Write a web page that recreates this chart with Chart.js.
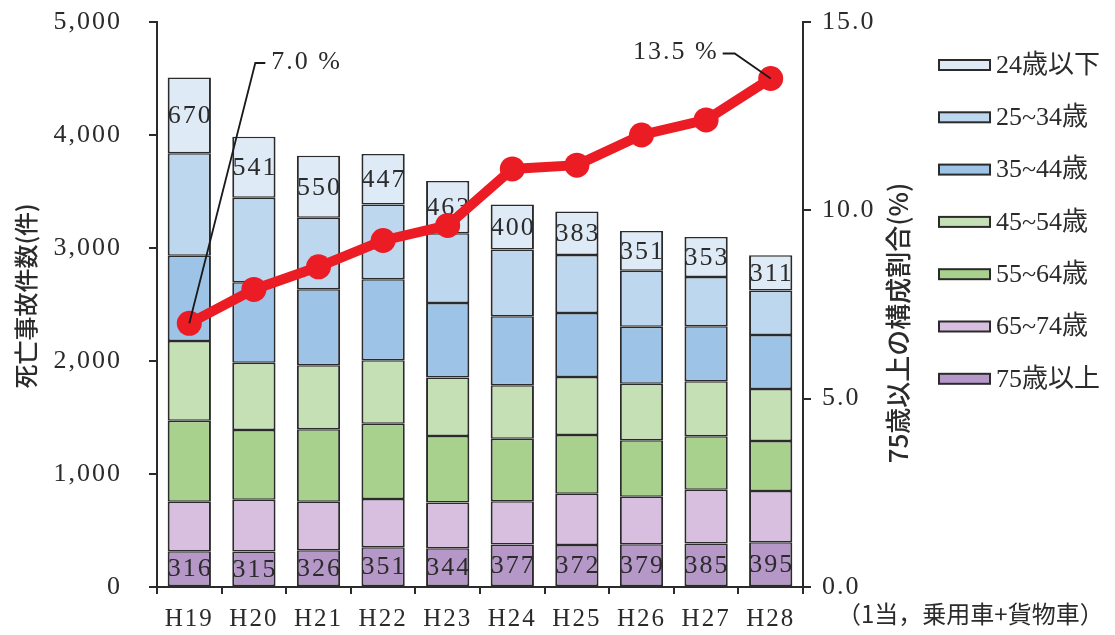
<!DOCTYPE html>
<html lang="ja">
<head>
<meta charset="utf-8">
<title>死亡事故件数と75歳以上の構成割合</title>
<script src="https://cdn.jsdelivr.net/npm/chart.js@4.4.1/dist/chart.umd.min.js"></script>
<style>
  html, body { margin: 0; padding: 0; background: #fff; }
  #chart { display: block; }
</style>
</head>
<body>
<canvas id="chart" width="1115" height="635"></canvas>
<script>
// Fatal accidents by age group of the first party (cars + trucks)
const years = ['H19', 'H20', 'H21', 'H22', 'H23', 'H24', 'H25', 'H26', 'H27', 'H28'];

const age75plus  = [316, 315, 326, 351, 344, 377, 372, 379, 385, 395];
const age65to74  = [438, 458, 428, 428, 404, 381, 454, 420, 476, 455];
const age55to64  = [718, 616, 641, 665, 589, 555, 519, 499, 472, 442];
const age45to54  = [705, 596, 568, 562, 516, 472, 513, 501, 487, 460];
const age35to44  = [754, 711, 672, 718, 660, 610, 567, 505, 487, 478];
const age25to34  = [907, 748, 632, 661, 618, 591, 514, 495, 437, 394];
const age24under = [670, 541, 550, 447, 463, 400, 383, 351, 353, 311];

// share of 75+ in all fatal accidents (%)
const share75 = [7.0, 7.9, 8.5, 9.2, 9.6, 11.1, 11.2, 12.0, 12.4, 13.5];

const groupLabels = ['75歳以上', '65~74歳', '55~64歳', '45~54歳', '35~44歳', '25~34歳', '24歳以下'];
const groupColors = ['#b597c8', '#d8bfdf', '#a9d18e', '#c5e0b4', '#9dc3e6', '#bdd7ee', '#deebf7'];
const groupData = [age75plus, age65to74, age55to64, age45to54, age35to44, age25to34, age24under];

const ink = '#2b2b2b';
const numFont = '26px "Liberation Serif", serif';
const jpFont = '26px "Liberation Serif", "Noto Sans CJK JP", serif';

const datasets = [{
  type: 'line',
  label: '75歳以上の構成割合',
  data: share75,
  yAxisID: 'y1',
  borderColor: '#ec1c24',
  backgroundColor: '#ec1c24',
  borderWidth: 10,
  pointRadius: 12.5,
  pointBorderWidth: 0,
  pointBackgroundColor: '#ec1c24',
  order: 0
}];
groupLabels.forEach((label, i) => {
  datasets.push({
    type: 'bar',
    label: label,
    data: groupData[i],
    yAxisID: 'y',
    backgroundColor: groupColors[i],
    borderColor: ink,
    // thinner top/bottom edges so neighbouring segments share one line
    borderWidth: { left: 2, right: 2, top: 1.5, bottom: 1.5 },
    borderSkipped: false,
    categoryPercentage: 1.0,
    barPercentage: 0.67,
    order: 1
  });
});

// Mincho-style digits are wide, so space the numbers out a bit
const spacing = {
  id: 'spacing',
  beforeUpdate(chart) { chart.ctx.letterSpacing = '2px'; },
  beforeDraw(chart) { chart.ctx.letterSpacing = '2px'; }
};

function drawBarLabels(chart) {
  const ctx = chart.ctx;
  ctx.save();
  ctx.font = numFont;
  ctx.letterSpacing = '2px';
  ctx.fillStyle = ink;
  ctx.textAlign = 'center';
  ctx.textBaseline = 'middle';
  // bottom (75+) and top (24 and under) segments carry their counts
  for (const idx of [1, datasets.length - 1]) {
    const meta = chart.getDatasetMeta(idx);
    meta.data.forEach((bar, i) => {
      const p = bar.getProps(['x', 'y', 'base'], true);
      ctx.fillText(String(chart.data.datasets[idx].data[i]), p.x + 1, (p.y + p.base) / 2 + 1);
    });
  }
  ctx.restore();
}

function drawCallouts(chart) {
  const ctx = chart.ctx;
  const pts = chart.getDatasetMeta(0).data;
  const first = pts[0];
  const last = pts[pts.length - 1];
  const top = chart.chartArea.top;
  ctx.save();
  ctx.strokeStyle = '#1a1a1a';
  ctx.lineWidth = 1.8;
  ctx.font = numFont;
  ctx.letterSpacing = '2px';
  ctx.fillStyle = ink;
  ctx.textBaseline = 'middle';

  // first year
  ctx.beginPath();
  ctx.moveTo(first.x, first.y);
  ctx.lineTo(first.x + 66, top + 41);
  ctx.lineTo(first.x + 76, top + 41);
  ctx.stroke();
  ctx.textAlign = 'left';
  ctx.fillText(share75[0].toFixed(1) + ' %', first.x + 82, top + 40);

  // last year
  ctx.beginPath();
  ctx.moveTo(last.x, last.y);
  ctx.lineTo(last.x - 36, last.y - 25);
  ctx.lineTo(last.x - 48, last.y - 25);
  ctx.stroke();
  ctx.textAlign = 'right';
  ctx.fillText(share75[share75.length - 1].toFixed(1) + ' %', last.x - 52, last.y - 26);
  ctx.restore();
}

function drawFrameText(chart) {
  const ctx = chart.ctx;
  const area = chart.chartArea;
  ctx.save();
  ctx.letterSpacing = '0px';
  ctx.fillStyle = ink;

  // axis titles, both read bottom to top
  ctx.textAlign = 'center';
  ctx.textBaseline = 'middle';
  ctx.save();
  ctx.font = '500 24px "Noto Sans CJK JP", sans-serif';
  ctx.translate(26, 296);
  ctx.rotate(-Math.PI / 2);
  ctx.fillText('死亡事故件数(件)', 0, 0);
  ctx.restore();
  ctx.save();
  ctx.font = '500 26px "Noto Sans CJK JP", sans-serif';
  ctx.translate(area.right + 95, 323);
  ctx.rotate(-Math.PI / 2);
  ctx.fillText('75歳以上の構成割合(%)', 0, 0);
  ctx.restore();

  // legend, youngest group on top
  const boxX = area.right + 136;
  for (let k = 0; k < groupLabels.length; k++) {
    const i = groupLabels.length - 1 - k;
    const cy = 65 + k * 52.3;
    ctx.fillStyle = groupColors[i];
    ctx.fillRect(boxX, cy - 5, 51, 10);
    ctx.strokeStyle = ink;
    ctx.lineWidth = 2;
    ctx.strokeRect(boxX, cy - 5, 51, 10);
    ctx.fillStyle = ink;
    ctx.font = jpFont;
    ctx.textAlign = 'left';
    ctx.fillText(groupLabels[i], boxX + 57, cy + 1);
  }

  // note under the right axis
  ctx.font = '24px "Noto Sans CJK JP", sans-serif';
  ctx.textAlign = 'left';
  ctx.fillText('（1当，乗用車+貨物車）', area.right + 34, 614);
  ctx.restore();
}

const extras = {
  id: 'extras',
  beforeDatasetDraw(chart, args) {
    if (args.index === 0) drawBarLabels(chart);
  },
  afterDatasetsDraw(chart) {
    drawCallouts(chart);
  },
  afterDraw(chart) {
    drawFrameText(chart);
  }
};

const axisGrid = {
  display: true,
  drawOnChartArea: false,
  drawTicks: true,
  tickLength: 8,
  color: ink,
  lineWidth: 2
};

// vertical axes: fixed width, and no extra room reserved above/below the plot
function fixVertical(width) {
  return (scale) => {
    scale.width = width;
    scale.paddingTop = 0;
    scale.paddingBottom = 0;
  };
}

new Chart(document.getElementById('chart'), {
  data: { labels: years, datasets: datasets },
  options: {
    responsive: false,
    animation: false,
    layout: { padding: { top: 22, left: 0, right: 0, bottom: 0 } },
    plugins: {
      legend: { display: false },
      tooltip: { enabled: false }
    },
    scales: {
      x: {
        stacked: true,
        grid: Object.assign({}, axisGrid, { offset: true, tickLength: 7 }),
        border: { display: true, color: ink, width: 2 },
        ticks: { color: ink, font: { family: '"Liberation Serif", serif', size: 25 }, padding: 10 },
        afterFit(scale) {
          scale.height = 48;
          scale.paddingLeft = 0;
          scale.paddingRight = 0;
        }
      },
      y: {
        stacked: true,
        position: 'left',
        min: 0,
        max: 5000,
        grid: axisGrid,
        border: { display: true, color: ink, width: 2 },
        ticks: {
          stepSize: 1000,
          color: ink,
          padding: 27,
          font: { family: '"Liberation Serif", serif', size: 26 },
          callback: (v) => v.toLocaleString('en-US')
        },
        afterFit: fixVertical(157)
      },
      y1: {
        position: 'right',
        min: 0,
        max: 15,
        grid: axisGrid,
        border: { display: true, color: ink, width: 2 },
        ticks: {
          stepSize: 5,
          color: ink,
          padding: 11,
          font: { family: '"Liberation Serif", serif', size: 26 },
          callback: (v) => v.toFixed(1)
        },
        afterFit: fixVertical(312)
      }
    }
  },
  plugins: [spacing, extras]
});
</script>
</body>
</html>
